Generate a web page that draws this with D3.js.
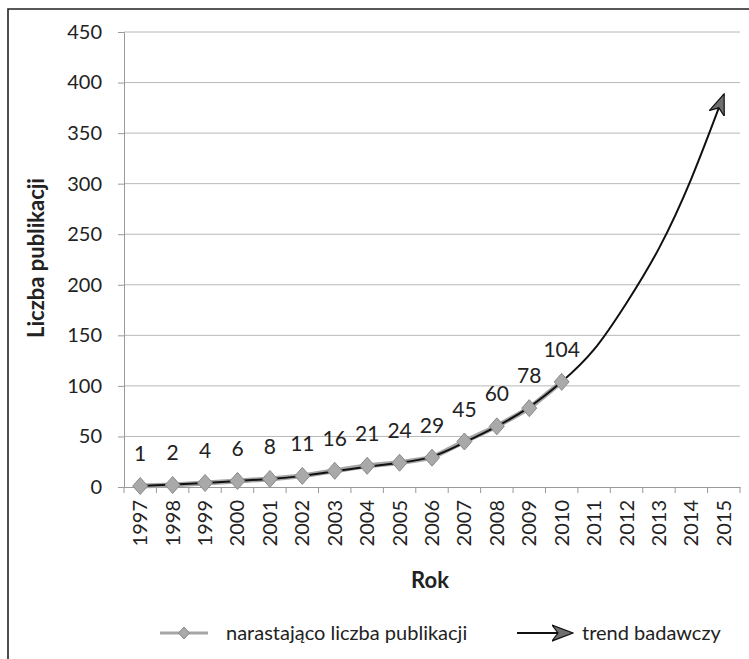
<!DOCTYPE html>
<html><head><meta charset="utf-8">
<script src="https://cdn.jsdelivr.net/npm/d3@7"></script>
<style>body{margin:0;background:#fff}svg{display:block}text{font-family:Lato,"Open Sans",sans-serif;fill:#222}</style>
</head><body><svg id="c" width="749" height="659"></svg>
<script>
const years = ["1997","1998","1999","2000","2001","2002","2003","2004","2005","2006","2007","2008","2009","2010","2011","2012","2013","2014","2015"];
const dataYears = ["1997","1998","1999","2000","2001","2002","2003","2004","2005","2006","2007","2008","2009","2010"];
const publications = [1,2,4,6,8,11,16,21,24,29,45,60,78,104];
const trendValues = [1,2.5,4,6,8,11,15.5,20,24,30,44,60,79,104,136,182,236,305,388];
const yTicks = [0,50,100,150,200,250,300,350,400,450];
const seriesName = "narastająco liczba publikacji";
const trendName = "trend badawczy";

const svg = d3.select("#c");
const pL = 124, pR = 740, pT = 32, pB = 487;
const x = d3.scaleBand().domain(years).range([pL, pR]);
const y = d3.scaleLinear().domain([0,450]).range([pB, pT]);
const cx = d => x(d) + x.bandwidth()/2;

// frame
svg.append("path").attr("d","M8,659 L8,9 L749,9").attr("fill","none").attr("stroke","#222").attr("stroke-width",1.6);

// gridlines
svg.append("g").selectAll("line").data(yTicks.filter(v=>v>0)).join("line")
  .attr("x1",pL).attr("x2",pR).attr("y1",d=>y(d)).attr("y2",d=>y(d))
  .attr("stroke","#b8b8b8").attr("stroke-width",1);

// y axis
const ya = svg.append("g").attr("transform",`translate(${pL},0)`)
  .call(d3.axisLeft(y).tickValues(yTicks).tickSize(6).tickPadding(16));
ya.select(".domain").attr("stroke","#999");
ya.selectAll(".tick line").attr("stroke","#999");
ya.selectAll("text").attr("font-size",20).attr("fill","#222").attr("font-family","Lato");

// x axis
const xa = svg.append("g").attr("transform",`translate(0,${pB})`)
  .call(d3.axisBottom(x).tickSize(0).tickPadding(0));
xa.select(".domain").attr("stroke","#999");
xa.selectAll(".tick line").remove();
xa.selectAll(".tick text").attr("transform","translate(0,13) rotate(-90)")
  .attr("text-anchor","end").attr("dy","0.35em").attr("x",0).attr("y",0)
  .attr("font-size",20).attr("fill","#222").attr("font-family","Lato");
// boundary ticks
svg.append("g").selectAll("line").data(years.concat(["end"])).join("line")
  .attr("x1",(d,i)=>pL + i*x.bandwidth()).attr("x2",(d,i)=>pL + i*x.bandwidth())
  .attr("y1",pB).attr("y2",pB+6).attr("stroke","#999");

// series line
const line = d3.line().x(d=>cx(d[0])).y(d=>y(d[1]));
const sData = dataYears.map((d,i)=>[d,publications[i]]);
svg.append("path").datum(sData).attr("d",line).attr("fill","none")
  .attr("stroke","#a6a6a6").attr("stroke-width",5);

// arrow marker
const defs = svg.append("defs");
defs.append("marker").attr("id","arr").attr("viewBox","0 0 22 18").attr("refX",20).attr("refY",9)
  .attr("markerWidth",22).attr("markerHeight",18).attr("markerUnits","userSpaceOnUse").attr("orient","auto")
  .append("path").attr("d","M0,1 L21,9 L0,17 L6,9 Z").attr("fill","#6e6e6e").attr("stroke","#111").attr("stroke-width",1.2);

// trend curve
const tData = years.map((d,i)=>[d,trendValues[i]]);
svg.append("path").datum(tData).attr("d",d3.line().x(d=>cx(d[0])).y(d=>y(d[1])).curve(d3.curveNatural)).attr("fill","none")
  .attr("stroke","#111").attr("stroke-width",2).attr("marker-end","url(#arr)");

// diamonds
const dia = (w,h) => `M0,${-h/2} L${w/2},0 L0,${h/2} L${-w/2},0 Z`;
svg.append("g").selectAll("path").data(sData).join("path")
  .attr("d",dia(15,17)).attr("transform",d=>`translate(${cx(d[0])},${y(d[1])})`)
  .attr("fill","#a9a9a9").attr("stroke","#8a8a8a").attr("stroke-width",1);

// data labels
svg.append("g").selectAll("text").data(sData).join("text")
  .attr("x",d=>cx(d[0])).attr("y",d=>y(d[1])-25)
  .attr("text-anchor","middle").attr("font-size",21).text(d=>d[1]);

// axis titles
svg.append("text").attr("transform","translate(44,258) rotate(-90)").attr("text-anchor","middle")
  .attr("font-size",22).attr("font-weight","bold").attr("fill","#333").text("Liczba publikacji");
svg.append("text").attr("x",430).attr("y",588).attr("text-anchor","middle")
  .attr("font-size",22).attr("font-weight","bold").attr("fill","#333").text("Rok");

// legend
const lg = svg.append("g");
lg.append("line").attr("x1",160).attr("x2",208).attr("y1",633).attr("y2",633).attr("stroke","#a6a6a6").attr("stroke-width",3);
lg.append("path").attr("d",dia(11,12)).attr("transform","translate(184,633)")
  .attr("fill","#a9a9a9").attr("stroke","#8a8a8a");
lg.append("text").attr("x",226).attr("y",640).attr("font-size",20).text(seriesName);
lg.append("line").attr("x1",517).attr("x2",572).attr("y1",633).attr("y2",633).attr("stroke","#111").attr("stroke-width",2).attr("marker-end","url(#arr)");
lg.append("text").attr("x",582).attr("y",640).attr("font-size",20).text(trendName);
</script></body></html>
